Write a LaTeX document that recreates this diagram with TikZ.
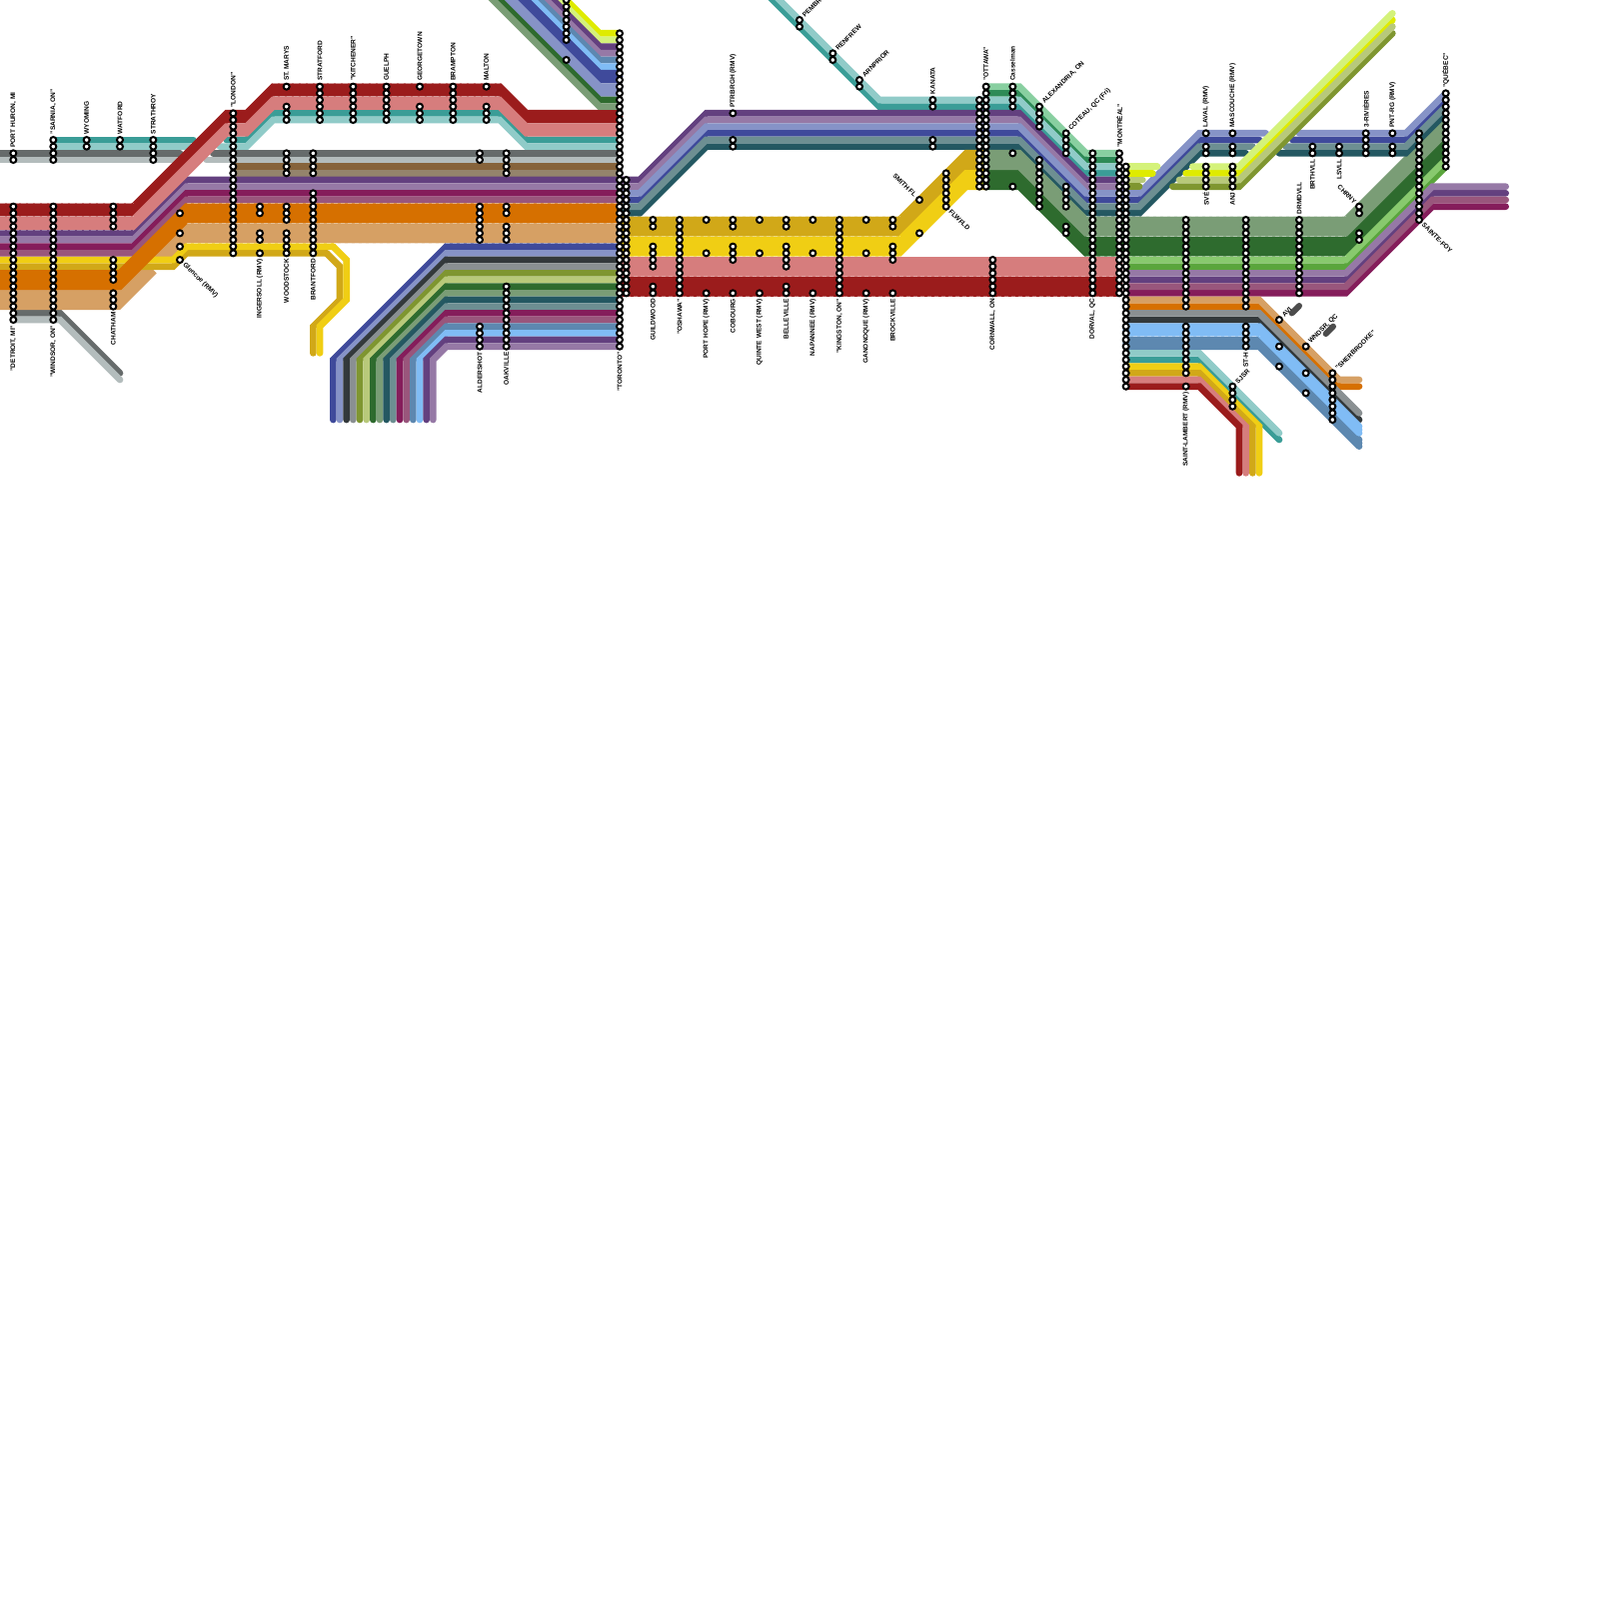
\documentclass[tikz,border=0pt]{standalone}
\usepackage{fontspec}
\setmainfont{Liberation Sans}
\definecolor{cRed}{HTML}{9B1C1C}\definecolor{cPink}{HTML}{D67D7D}
\definecolor{cTeal}{HTML}{3A9D97}\definecolor{cLTeal}{HTML}{90CBC8}
\definecolor{cGrey}{HTML}{666B6B}\definecolor{cLGrey}{HTML}{B3BCBC}
\definecolor{cBrown}{HTML}{86633B}\definecolor{cTaupe}{HTML}{94846C}
\definecolor{cPurple}{HTML}{63407F}\definecolor{cLPurple}{HTML}{9679A6}
\definecolor{cMag}{HTML}{851D5B}\definecolor{cDusty}{HTML}{99567C}
\definecolor{cOrange}{HTML}{D67000}\definecolor{cTan}{HTML}{D6A064}
\definecolor{cYellow}{HTML}{F0CE14}\definecolor{cGold}{HTML}{D1A818}
\definecolor{cLime}{HTML}{DFEB00}\definecolor{cLLime}{HTML}{D4F27A}
\definecolor{cSteel}{HTML}{5D88B0}\definecolor{cSky}{HTML}{80BCF5}
\definecolor{cBlue}{HTML}{3F4A9B}\definecolor{cPeri}{HTML}{8693C7}
\definecolor{cDkGreen}{HTML}{2E6B2E}\definecolor{cSage}{HTML}{7A9D76}
\definecolor{cDkTeal}{HTML}{245862}\definecolor{cSlate}{HTML}{6D8F92}
\definecolor{cChar}{HTML}{33393B}\definecolor{cGray}{HTML}{8A9092}
\definecolor{cOlive}{HTML}{7F9630}\definecolor{cKhaki}{HTML}{B8C97A}
\definecolor{cLGreen}{HTML}{88C96E}\definecolor{cGreen}{HTML}{5AA53C}
\definecolor{cSea}{HTML}{2E8B57}\definecolor{cLSea}{HTML}{88CFA0}
\tikzset{
  rtstroke/.style={line width=1mm,line cap=round,line join=miter,miter limit=10},
  stub/.style={line width=.9mm,line cap=round,color=black!70},
  seam/.style={line width=.1mm,white,opacity=.3,dash pattern=on .7mm off .35mm},
  stn/.style={draw=black,fill=white,line width=.3mm},
  lbl/.style={inner sep=0pt,font=\fontsize{2.8pt}{3pt}\selectfont\bfseries,text=black}
}
% one stroke of a route, shifted by an offset in rows; a wide route is a stack of them
\newcommand\rst[3]{%
  \gdef\rtP{}%
  \foreach \rc/\rr in {#3}{%
    \pgfmathsetmacro\ta{\rr+#2}%
    \xdef\rtP{\rtP\ifx\rtP\empty\else--\fi(\rc,\ta)}%
  }%
  \edef\rtDo{\noexpand\draw[rtstroke,#1] \rtP;}\rtDo
}
\newcommand\rone[2]{\rst{#1}{0}{#2}}
\newcommand\rtwo[2]{\rst{#1}{-.5}{#2}\rst{#1}{.5}{#2}\rst{#1}{0}{#2}}
\newcommand\rthr[2]{\rst{#1}{-1}{#2}\rst{#1}{1}{#2}\rst{#1}{-.5}{#2}\rst{#1}{.5}{#2}\rst{#1}{0}{#2}}
\newcommand\fan[3]{\draw[rtstroke,#1] (93,#2)--(67,#2)--(#3,54)--(#3,63);}
\newcommand\stl[2]{\foreach \qa/\qb in {#2}{\foreach \qq in {\qa,...,\qb}{\draw[stn] (#1,\qq) circle[radius=.45];}}}
\newcommand\lup[3]{\node[lbl,rotate=90,anchor=west] (up#1) at (#1,#2-.8) {#3};}
\newcommand\ldn[3]{\node[lbl,rotate=90,anchor=east] (dn#1) at (#1,#2+.8) {#3};}
\newcommand\lne[3]{\node[lbl,rotate=45,anchor=west] (ne#1) at (#1+.55,#2-.55) {#3};}
\newcommand\lse[3]{\node[lbl,rotate=-45,anchor=west] (se#1) at (#1+.55,#2+.55) {#3};}
\newcommand\lnw[3]{\node[lbl,rotate=-45,anchor=east] (nw#1) at (#1-.55,#2-.55) {#3};}
\newcommand\seamline[3]{\draw[seam] (#1,#3) -- (#2,#3);}
\begin{document}
\begin{tikzpicture}[x=1mm,y=-1mm]
\useasboundingbox (0,0) rectangle (240,240);
\clip (0,0) rectangle (240,240);
\fill[white] (0,0) rectangle (240,240);
% --- west: grey and teal, under the red
\rone{cGrey}{-1/23,27/23}
\rone{cLGrey}{-1/24,26.5/24}
\rone{cGrey}{32/23,93/23}
\rone{cLGrey}{31/24,93/24}
\rone{cTeal}{8/21,29/21}
\rone{cLTeal}{8/22,28.5/22}
\rone{cTeal}{34/21,37/21,41/17,75/17,79/21,93/21}
\rone{cLTeal}{33/22,37/22,41/18,75/18,79/22,93/22}
\rone{cBrown}{35/25,93/25}
\rone{cTaupe}{35/26,93/26}
\rone{cGrey}{2/47,9/47,18/56}
\rone{cLGrey}{2/48,9/48,18/57}
\fill[cTan] (-1,43.5)--(18,43.5)--(22,39.5)--(23.5,41)--(18,46.5)--(-1,46.5)--cycle;
\fill[cTan] (93.5,33.5)--(28,33.5)--(23,38.5)--(25.5,39)--(28,36.5)--(93.5,36.5)--cycle;
\rone{cGold}{-1/40,26/40,28/38,49/38}
\rone{cYellow}{-1/39,26/39,28/37,50/37}
\draw[rtstroke,cGold] (49,38)--(51,40)--(51,45)--(47,49)--(47,53);
\draw[rtstroke,cYellow] (50,37)--(52,39)--(52,45)--(48,49)--(48,53);
\rone{cPurple}{-1/35,20/35,28/27,93.5/27}
\rone{cLPurple}{-1/36,20/36,28/28,93.5/28}
\rone{cMag}{-1/37,20/37,28/29,93.5/29}
\rone{cDusty}{-1/38,20/38,28/30,93.5/30}
\rthr{cOrange}{-1/42,18/42,28/32,93.5/32}
\rtwo{cRed}{-1/31.5,20/31.5,34/17.5,37/17.5,41/13.5,75/13.5,79/17.5,93/17.5}
\rtwo{cPink}{-1/33.5,20/33.5,34/19.5,37/19.5,41/15.5,75/15.5,79/19.5,93/19.5}
% --- north of Toronto
\rone{cLime}{93/5,90/5,84/-1}
\rone{cLLime}{93/6,90/6,83/-1}
\rone{cPurple}{93/7,90/7,82/-1}
\rone{cLPurple}{93/8,90/8,81/-1}
\rone{cSteel}{93/9,90/9,80/-1}
\rone{cSky}{93/10,90/10,79/-1}
\rtwo{cBlue}{93/11.5,90/11.5,77.5/-1}
\rtwo{cPeri}{93/13.5,90/13.5,75.5/-1}
\rone{cDkGreen}{93/15,90/15,74/-1}
\rone{cSage}{93/16,90/16,73/-1}
% --- south of Toronto fan
\fan{cBlue}{37}{50}\fan{cPeri}{38}{51}\fan{cChar}{39}{52}\fan{cGray}{40}{53}
\fan{cOlive}{41}{54}\fan{cKhaki}{42}{55}\fan{cDkGreen}{43}{56}\fan{cSage}{44}{57}
\fan{cDkTeal}{45}{58}\fan{cSlate}{46}{59}\fan{cMag}{47}{60}\fan{cDusty}{48}{61}
\fan{cSteel}{49}{62}\fan{cSky}{50}{63}\fan{cPurple}{51}{64}\fan{cLPurple}{52}{65}
% --- Toronto to Ottawa to Montreal
\rone{cSea}{148/14,153/14,163/24,168/24}
\rone{cLSea}{148/13,153/13,163/23,168/23}
\rone{cTeal}{114.5/-1.5,132/16,153/16,163/26,168/26}
\rone{cLTeal}{115.5/-1.5,132/15,153/15,163/25,168/25}
\rone{cPurple}{93.5/27,96/27,106/17,153/17,163/27,169/27}
\rone{cLPurple}{93.5/28,96/28,106/18,153/18,163/28,169/28}
\rone{cBlue}{93.5/30,96/30,106/20,153/20,163/30,171/30,180/21,189/21}
\rone{cPeri}{93.5/29,96/29,106/19,153/19,163/29,171/29,180/20,190/20}
\rone{cDkTeal}{93.5/32,96/32,106/22,153/22,163/32,171/32,180/23,187/23}
\rone{cSlate}{93.5/31,96/31,106/21,153/21,163/31,171/31,180/22,188/22}
\rthr{cGold}{93.5/34,135/34,145/24,148/24}
\rthr{cYellow}{93.5/37,135/37,145/27,148/27}
\rthr{cDkGreen}{148/27,153/27,163/37,202/37,217/22}
\rthr{cSage}{148/24,153/24,163/34,202/34,217/19}
\rone{cGreen}{169/40,202/40,217/25}
\rone{cLGreen}{169/39,202/39,217/24}
\rone{cBlue}{194/21,211/21,217/15}
\rone{cPeri}{195/20,211/20,217/14}
\rone{cDkTeal}{192/23,211/23,217/17}
\rone{cSlate}{193/22,211/22,217/16}
\rone{cLime}{169/26,173/26}
\rone{cLLime}{169/25,173.7/25}
\rone{cOlive}{169/28,171/28}
\rone{cKhaki}{169/27,171.5/27}
\rone{cLime}{178/26,186/26,209/3}
\rone{cLLime}{179/25,186/25,209/2}
\rone{cOlive}{176/28,186/28,209/5}
\rone{cKhaki}{177/27,186/27,209/4}
\rthr{cPink}{93.5/40,168/40}
\rthr{cRed}{93.5/43,168/43}
% --- east of Montreal
\rone{cPurple}{169/42,202/42,215/29,226/29}
\rone{cLPurple}{169/41,202/41,215/28,226/28}
\rone{cMag}{169/44,202/44,215/31,226/31}
\rone{cDusty}{169/43,202/43,215/30,226/30}
\rone{cOrange}{169/46,189/46,201/58,204/58}
\rone{cTan}{169/45,189/45,201/57,204/57}
\rone{cChar}{169/48,189/48,204/63}
\rone{cGray}{169/47,189/47,204/62}
\rtwo{cSteel}{169/51.5,189/51.5,204/66.5}
\rtwo{cSky}{169/49.5,189/49.5,204/64.5}
\rone{cTeal}{169/54,180/54,192/66}
\rone{cLTeal}{169/53,180/53,192/65}
\draw[rtstroke,cYellow] (169,55)--(180,55)--(189,64)--(189,71);
\draw[rtstroke,cGold] (169,56)--(180,56)--(188,64)--(188,71);
\draw[rtstroke,cPink] (169,57)--(180,57)--(187,64)--(187,71);
\draw[rtstroke,cRed] (169,58)--(180,58)--(186,64)--(186,71);
\draw[stub] (193.9,47)--(195,45.9);
\draw[stub] (199,50.1)--(200.1,49);
% --- seams along the wide bands
\seamline{0}{20}{30.5}\seamline{0}{20}{32.5}\seamline{0}{20}{34.5}
\seamline{41}{75}{12.5}\seamline{41}{75}{14.5}
\seamline{28}{93}{30.5}\seamline{28}{93}{33.5}\seamline{28}{93}{36.5}
\seamline{94}{135}{32.5}\seamline{94}{135}{35.5}\seamline{94}{135}{38.5}
\seamline{94}{168}{41.5}\seamline{94}{168}{44.5}
\seamline{163}{202}{32.5}\seamline{163}{202}{35.5}\seamline{163}{202}{38.5}
\seamline{169}{189}{50.5}
% --- stations
\stl{2}{23/24,31/48}
\stl{8}{21/24,31/48}
\stl{13}{21/22}
\stl{18}{21/22}
\stl{23}{21/24}
\stl{17}{31/34,39/42,44/46}
\stl{27}{32/32,35/35,37/37,39/39}
\stl{35}{17/38}
\stl{39}{31/32,35/36,38/38}
\stl{43}{13/13,16/18,23/26,31/33,35/38}
\stl{47}{23/26,29/38}
\stl{48}{13/18}
\stl{53}{13/18}
\stl{58}{13/18}
\stl{63}{13/13,16/18}
\stl{68}{13/18}
\stl{73}{13/13,16/18}
\stl{72}{23/24,31/36,49/52}
\stl{76}{23/26,31/32,34/36,43/52}
\stl{85}{0/6,9/9}
\stl{93}{5/52}
\stl{94}{27/44}
\stl{98}{33/34,37/40,43/44}
\stl{102}{33/44}
\stl{106}{33/33,38/38,44/44}
\stl{110}{17/17,21/22,33/34,37/39,44/44}
\stl{114}{33/33,38/38,44/44}
\stl{118}{33/34,37/40,43/44}
\stl{122}{33/33,38/38,44/44}
\stl{126}{33/44}
\stl{130}{33/33,38/38,44/44}
\stl{134}{33/34,37/39,44/44}
\stl{138}{30/30,35/35}
\stl{142}{26/31}
\stl{120}{3/4}
\stl{125}{8/9}
\stl{129}{12/13}
\stl{140}{15/16,21/22}
\stl{147}{15/28}
\stl{148}{13/28}
\stl{152}{13/16,23/23,28/28}
\stl{156}{16/19,24/31}
\stl{160}{20/23,28/31,34/35}
\stl{164}{23/44}
\stl{149}{39/44}
\stl{168}{23/44}
\stl{169}{25/58}
\stl{178}{33/46,49/56,58/58}
\stl{181}{20/20,22/23,25/28}
\stl{185}{20/20,22/23,25/28,58/61}
\stl{187}{33/46,49/52}
\stl{192}{48/48,52/52,55/55}
\stl{196}{52/52,56/56,59/59}
\stl{200}{56/63}
\stl{195}{33/44}
\stl{197}{22/23}
\stl{201}{22/23}
\stl{205}{20/23}
\stl{209}{20/20,22/23}
\stl{204}{31/32,35/36}
\stl{213}{20/33}
\stl{217}{14/25}
% --- labels
\lup{2}{23}{PORT HURON, MI}
\lup{8}{21}{"SARNIA, ON"}
\lup{13}{21}{WYOMING}
\lup{18}{21}{WATFORD}
\lup{23}{21}{STRATHROY}
\lup{35}{17}{"LONDON"}
\lup{43}{13}{ST. MARYS}
\lup{48}{13}{STRATFORD}
\lup{53}{13}{"KITCHENER"}
\lup{58}{13}{GUELPH}
\lup{63}{13}{GEORGETOWN}
\lup{68}{13}{BRAMPTON}
\lup{73}{13}{MALTON}
\lup{110}{17}{PTRBRGH (RMV)}
\lup{140}{15}{KANATA}
\lup{148}{13}{"OTTAWA"}
\lup{152}{13}{Casselman}
\lup{168}{23}{"MONTRÉAL"}
\lup{181}{20}{LAVAL (RMV)}
\lup{185}{20}{MASCOUCHE (RMV)}
\lup{205}{20}{3-RIVIÈRES}
\lup{209}{20}{PNT-RG (RMV)}
\lup{217}{14}{"QUÉBEC"}
\lup{195}{33}{DRMDVLL}
\ldn{2}{48}{"DETROIT, MI"}
\ldn{8}{48}{"WINDSOR, ON"}
\ldn{17}{46}{CHATHAM}
\ldn{39}{38}{INGERSOLL (RMV)}
\ldn{43}{38}{WOODSTOCK}
\ldn{47}{38}{BRANTFORD}
\ldn{72}{52}{ALDERSHOT}
\ldn{76}{52}{OAKVILLE}
\ldn{93}{52}{"TORONTO"}
\ldn{98}{44}{GUILDWOOD}
\ldn{102}{44}{"OSHAWA"}
\ldn{106}{44}{PORT HOPE (RMV)}
\ldn{110}{44}{COBOURG}
\ldn{114}{44}{QUINTE WEST (RMV)}
\ldn{118}{44}{BELLEVILLE}
\ldn{122}{44}{NAPANNEE (RMV)}
\ldn{126}{44}{"KINGSTON, ON"}
\ldn{130}{44}{GANONOQUE (RMV)}
\ldn{134}{44}{BROCKVILLE}
\ldn{149}{44}{CORNWALL, ON}
\ldn{164}{44}{DORVAL, QC}
\ldn{178}{58}{SAINT-LAMBERT (RMV)}
\ldn{181}{28}{SVÉ}
\ldn{185}{28}{ANJ}
\ldn{187}{52}{ST-H}
\ldn{197}{23}{BRTHVLL}
\ldn{201}{23}{LSVLL}
\lne{120}{3}{PEMBROKE}
\lne{125}{8}{RENFREW}
\lne{129}{12}{ARNPRIOR}
\lne{156}{16}{ALEXANDRIA, ON}
\lne{160}{20}{COTEAU, QC (Fri)}
\lne{185}{58}{SJSR}
\lne{192}{48}{AVI}
\lne{196}{52}{WNDSR, QC}
\lne{200}{56}{"SHERBROOKE"}
\lse{27}{39}{Glencoe (RMV)}
\lse{142}{31}{FLWFLD}
\lse{213}{33}{SAINTE-FOY}
\lnw{138}{30}{SMITH FL}
\lnw{204}{31}{CHRNY}
\end{tikzpicture}
\end{document}
